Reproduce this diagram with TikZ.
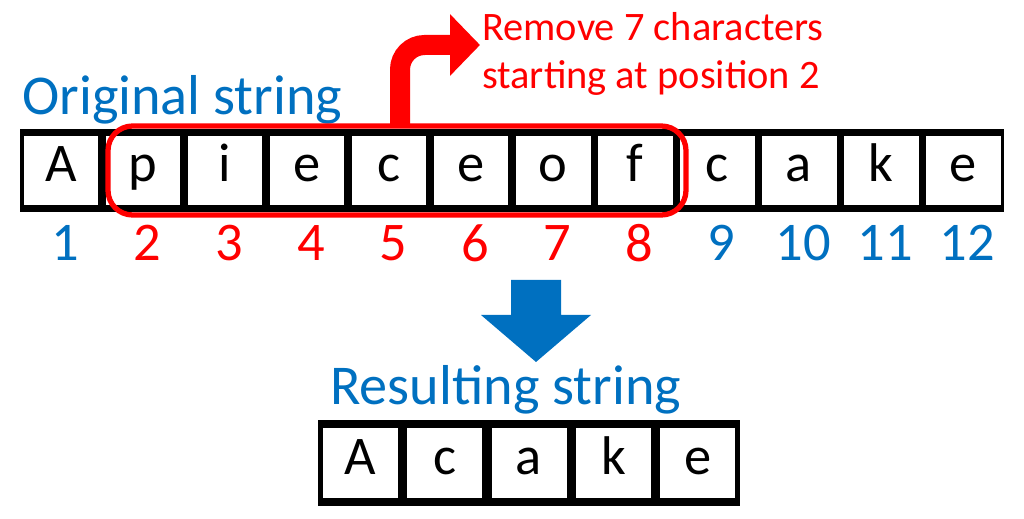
\documentclass[tikz,border=0pt]{standalone}
\usepackage{fontspec}
\setmainfont{Carlito}
\usetikzlibrary{arrows.meta}
\definecolor{myblue}{RGB}{0,112,192}
\definecolor{myred}{RGB}{255,0,0}
\tikzset{
  cellbox/.style={fill=white,draw=none,minimum width=1.5cm,minimum height=1.4cm,inner sep=0pt,text height=0.6cm,text depth=0.15cm,font=\fontsize{31}{34}\selectfont},
  numlab/.style={font=\fontsize{31}{34}\selectfont},
  titlelab/.style={font=\fontsize{32}{36}\selectfont,text=myblue,anchor=base west,inner sep=0pt}
}
\begin{document}
\begin{tikzpicture}[x=0.02cm,y=-0.02cm]
\useasboundingbox (0,0) rectangle (1024,519);

\node[titlelab] (orig) at (22,115) {Original string};
\fill (20,129) rectangle (1004,212);
\foreach \c [count=\i] in {A,p,i,e,c,e,o,f,c,a,k,e} {
  \node[cellbox] (c\i) at ({20+82*(\i-1)+41},170.5) {\c};
}
\foreach \i in {1,...,12} {
  \ifnum\i>1 \ifnum\i<9 \def\ncol{myred}\else\def\ncol{myblue}\fi\else\def\ncol{myblue}\fi
  \node[numlab,text=\ncol] (n\i) at ({20+82*(\i-1)+45},243) {\i};
}
\draw[myred,line width=3pt,rounded corners=14pt] (108,126) rectangle (686,215);
\coordinate (rtop) at (400,126);
\coordinate (rtip) at (480,45);
\draw[myred,line width=0.4cm,rounded corners=14pt,-{Triangle[length=0.6cm,width=1.2cm]}] (rtop) |- (rtip);
\node[text=myred,anchor=west,align=left,font=\fontsize{23}{27}\selectfont] (note) at (476,54) {Remove 7 characters\\starting at position 2};

\fill[myblue] (511,280) -- (561,280) -- (561,315) -- (591,315) -- (536,362) -- (481,315) -- (511,315) -- cycle;

\node[titlelab] (res) at (330,405) {Resulting string};
\fill (318,420) rectangle (740,506);
\foreach \c [count=\i] in {A,c,a,k,e} {
  \node[cellbox] (r\i) at ({318+84.4*(\i-1)+42.2},463) {\c};
}
\end{tikzpicture}
\end{document}
